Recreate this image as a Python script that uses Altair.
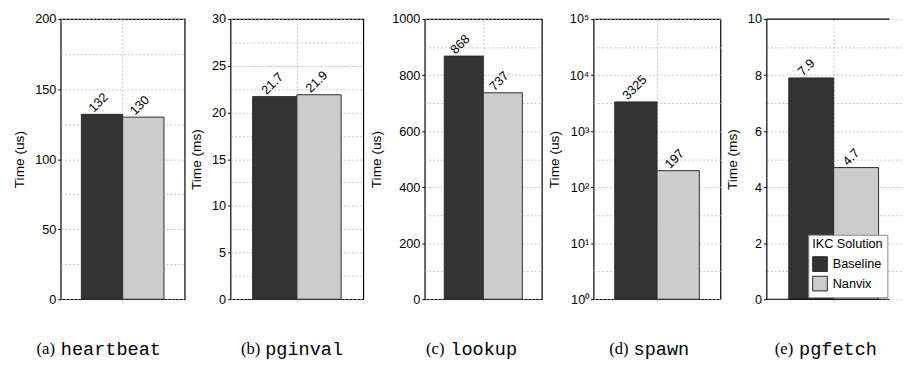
import altair as alt
import pandas as pd

# ---------------- data ----------------
benchmarks = ["heartbeat", "pginval", "lookup", "spawn", "pgfetch"]
letters = ["(a)", "(b)", "(c)", "(d)", "(e)"]
units = ["us", "ms", "us", "us", "ms"]
solutions = ["Baseline", "Nanvix"]
baseline_times = [132, 21.7, 868, 3325, 7.9]
nanvix_times = [130, 21.9, 737, 197, 4.7]

# axis settings per panel
y_max = [200, 30, 1000, 100000, 10]
y_major = [50, 5, 200, 10, 2]
y_minor = [25, 2.5, 100, None, 1]
log_panel = [False, False, False, True, False]

# ---------------- layout ----------------
H = 287
widths = [127, 136, 120, 130, 126]     # last panel is cut by the page edge
band_range = [127, 136, 120, 130, 138]
gaps = [47, 63, 53, 47]
cap_center = [39, 63, 48, 57, 61]      # caption centre, relative to plot left
CAP_Y = H + 51
CAP_SERIF_FS = 17
CAP_MONO_FS = 19
SANS = "Liberation Sans"
SERIF = "Liberation Serif"
MONO = "Liberation Mono"
colors = ["#333333", "#cccccc"]
GRID = "#b5b5b5"


def grid_values(i):
    if log_panel[i]:
        return [10 ** (k / 2) for k in range(11)]
    n = int(round(y_max[i] / y_minor[i]))
    return [round(k * y_minor[i], 6) for k in range(n + 1)]


def major_test(i):
    if log_panel[i]:
        return "abs(log(datum.value)/LN10 - round(log(datum.value)/LN10)) < 1e-6"
    m = y_major[i]
    return f"abs(datum.value/{m} - round(datum.value/{m})) < 1e-6"


def panel(i):
    last = i == 4
    df = pd.DataFrame({
        "solution": solutions,
        "time": [baseline_times[i], nanvix_times[i]],
        "label": [f"{baseline_times[i]:g}", f"{nanvix_times[i]:g}"],
    })
    test = major_test(i)
    if log_panel[i]:
        label_expr = (f"({test}) ? '10' + ['\u2070','\u00b9','\u00b2','\u00b3','\u2074','\u2075']"
                      f"[round(log(datum.value)/LN10)] : ''")
        yscale = alt.Scale(type="log", domain=[1, y_max[i]], nice=False)
        y_lo = 1
    else:
        label_expr = f"({test}) ? datum.label : ''"
        yscale = alt.Scale(domain=[0, y_max[i]], nice=False, zero=True)
        y_lo = 0

    yaxis = alt.Axis(
        values=grid_values(i), format="d" if not log_panel[i] else "",
        labelExpr=label_expr, title=f"Time ({units[i]})",
        grid=True, gridDash=[2, 2], gridColor=GRID, gridWidth=0.8,
        domain=last, domainColor="black", domainWidth=1.2,
        tickSize=3, tickColor="black",
        tickOpacity={"condition": {"test": test, "value": 1}, "value": 0},
        labelPadding=2, titlePadding=8,
    )
    X = alt.X("solution:N", sort=solutions,
              scale=alt.Scale(domain=solutions, paddingInner=0, paddingOuter=0.5,
                              range=[0, band_range[i]]),
              axis=alt.Axis(values=["Baseline"], bandPosition=1, labels=False, title=None,
                            domain=False, grid=True, gridDash=[2, 2], gridColor=GRID,
                            gridWidth=0.8, tickSize=4, tickColor="#aaaaaa", tickDash=[1, 1]))
    Y = alt.Y("time:Q", scale=yscale, axis=yaxis)
    if last:
        legend = alt.Legend(title="IKC Solution", orient="bottom-right", offset=2,
                            symbolType="square", symbolSize=225, symbolStrokeColor="#222222",
                            symbolStrokeWidth=1, symbolOpacity=1,
                            fillColor="white", strokeColor="#8a8a8a", padding=4,
                            rowPadding=0, titlePadding=5, labelOffset=5,
                            titleFont=SANS, titleFontSize=13, titleFontWeight="normal",
                            titleColor="black", labelFont=SANS, labelFontSize=13,
                            labelColor="black")
    else:
        legend = None
    C = alt.Color("solution:N", sort=solutions,
                  scale=alt.Scale(domain=solutions, range=colors), legend=legend)

    base = alt.Chart(df)
    bars = base.mark_bar(stroke="#2a2a2a", strokeWidth=1, opacity=1).encode(
        x=X, y=Y, y2=alt.datum(y_lo), color=C)
    labels = base.mark_text(angle=315, align="left", baseline="middle", dx=-5, dy=-11,
                            fontSize=13, font=SANS, color="black").encode(
        x=X, y=Y, text="label:N")

    # caption: serif letter + monospace benchmark name, centred together
    w_letter = 1.11 * CAP_SERIF_FS
    w_space = 6
    w_name = 0.6 * CAP_MONO_FS * len(benchmarks[i])
    start = cap_center[i] - (w_letter + w_space + w_name) / 2
    cap1 = alt.Chart(pd.DataFrame({"t": [letters[i]]})).mark_text(
        align="left", baseline="middle", font=SERIF, fontSize=CAP_SERIF_FS,
        color="black").encode(text="t:N", x=alt.value(start), y=alt.value(CAP_Y))
    cap2 = alt.Chart(pd.DataFrame({"t": [benchmarks[i]]})).mark_text(
        align="left", baseline="middle", font=MONO, fontSize=CAP_MONO_FS,
        color="black").encode(text="t:N", x=alt.value(start + w_letter + w_space),
                              y=alt.value(CAP_Y))

    layers = [bars, labels, cap1, cap2]
    props = dict(width=widths[i], height=H)
    if last:
        frame = alt.Chart(pd.DataFrame({"time": [y_lo, y_max[i]]})).mark_rule(
            color="black", strokeWidth=1.2).encode(y=Y)
        layers.append(frame)
        props["view"] = alt.ViewBackground(stroke="transparent")
    return alt.layer(*layers).properties(**props)


def spacer(w):
    return alt.Chart(pd.DataFrame({"v": [0]})).mark_point(opacity=0).encode(
        x=alt.value(0), y=alt.value(0)).properties(
        width=w, height=H, view=alt.ViewBackground(stroke="transparent"))


items = []
for i in range(5):
    items.append(panel(i))
    if i < 4:
        items.append(spacer(gaps[i]))

chart = alt.hconcat(*items, spacing=0, bounds="flush").resolve_scale(
    x="independent", y="independent", color="independent"
).properties(
    padding={"left": 4, "top": 0, "right": 0, "bottom": 0}
).configure_view(
    stroke="black", strokeWidth=1.2
).configure_axis(
    labelFont=SANS, labelFontSize=13, labelColor="black",
    titleFont=SANS, titleFontSize=14, titleFontWeight="normal", titleColor="black",
)

chart.save("out.html", embed_options={"renderer": "svg", "actions": False})
